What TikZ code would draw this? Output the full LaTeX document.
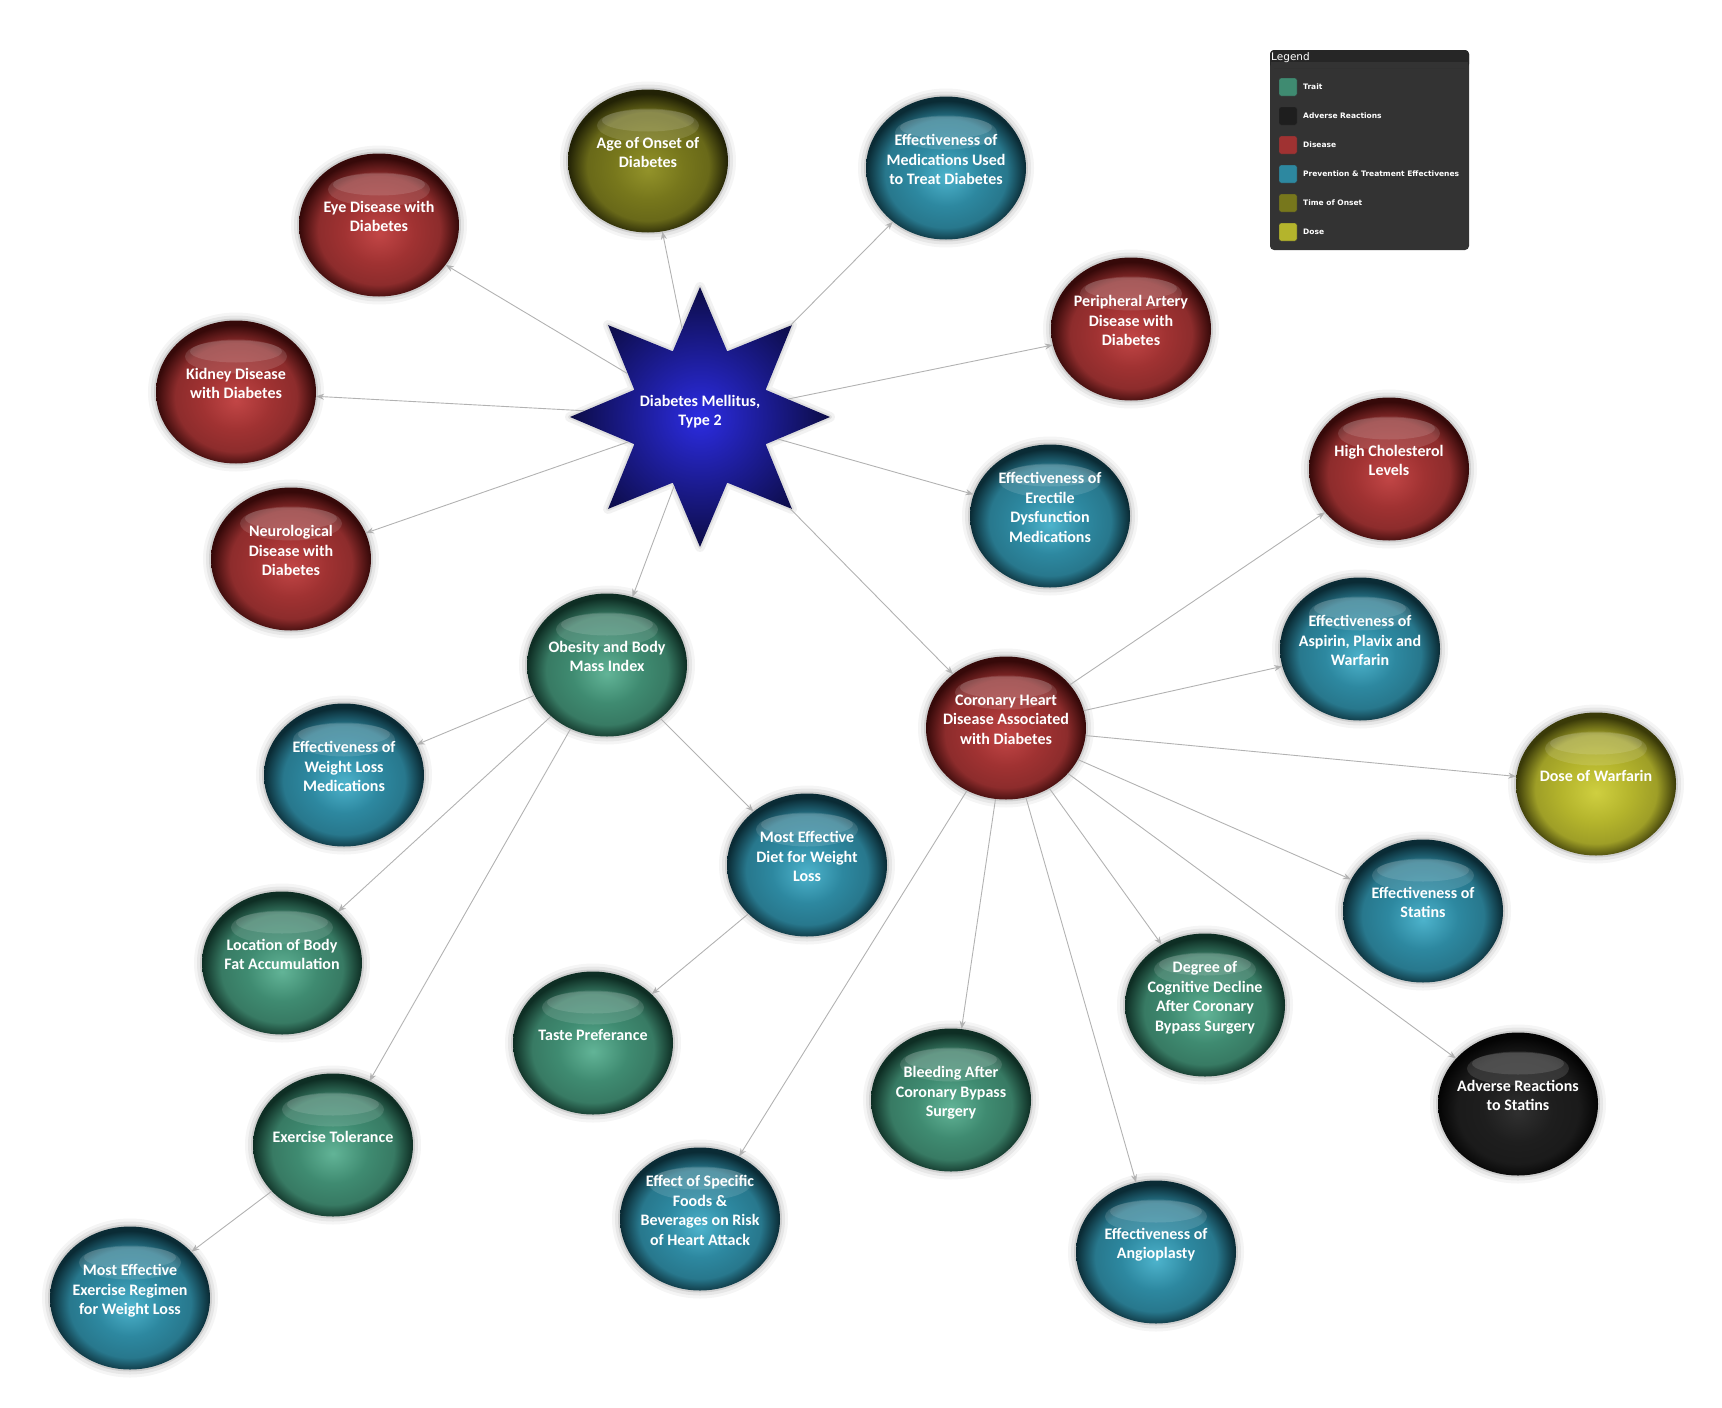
\documentclass[tikz,border=0pt]{standalone}
\usepackage{fontspec}
\setmainfont{Carlito}
\newfontfamily\legendfont{DejaVu Sans}
\usepackage{xcolor}
\usepackage{tikz}
\usetikzlibrary{shapes.geometric, arrows.meta}

% ── Category colours (centre / body / rim) ────────────────────────────────────
\definecolor{traitC}{HTML}{62B497}\definecolor{traitM}{HTML}{3F8B71}\definecolor{traitD}{HTML}{0E2E24}
\definecolor{advC}{HTML}{303030}\definecolor{advM}{HTML}{1E1E1E}\definecolor{advD}{HTML}{040404}
\definecolor{disC}{HTML}{C24646}\definecolor{disM}{HTML}{A03232}\definecolor{disD}{HTML}{360909}
\definecolor{prevC}{HTML}{4DB3CC}\definecolor{prevM}{HTML}{2D88A0}\definecolor{prevD}{HTML}{0A2B35}
\definecolor{onsetC}{HTML}{93932A}\definecolor{onsetM}{HTML}{77771C}\definecolor{onsetD}{HTML}{222205}
\definecolor{doseC}{HTML}{CFCF40}\definecolor{doseM}{HTML}{B4B42C}\definecolor{doseD}{HTML}{3A3A08}
\definecolor{legendbg}{HTML}{333333}

\newcommand{\ballshading}[4]{%
  \pgfdeclareradialshading{#1}{\pgfpoint{0bp}{-3bp}}{%
    color(0bp)=(#2); color(11bp)=(#3); color(19bp)=(#3!88!black);
    color(25bp)=(#4); color(50bp)=(#4)}}
\ballshading{balltrait}{traitC}{traitM}{traitD}
\ballshading{balladv}{advC}{advM}{advD}
\ballshading{balldis}{disC}{disM}{disD}
\ballshading{ballprev}{prevC}{prevM}{prevD}
\ballshading{ballonset}{onsetC}{onsetM}{onsetD}
\ballshading{balldose}{doseC}{doseM}{doseD}

\begin{document}
\begin{tikzpicture}[
  x=1pt, y=-1pt,
  ball/.style  = {ellipse, minimum width=160pt, minimum height=143pt,
                  inner xsep=-25pt, inner ysep=-8pt,
                  align=center, text=white, shade, text depth=17pt,
                  font=\bfseries\fontsize{16}{19.5}\selectfont,
                  preaction={draw=black, draw opacity=0.04, line width=16pt},
                  preaction={draw=black, draw opacity=0.06, line width=10pt},
                  preaction={draw=black, draw opacity=0.10, line width=4pt},
                  path picture={
                    \fill[white, fill opacity=0.12]
                      ([yshift=-36pt]path picture bounding box.north) ellipse (51pt and 17pt);
                    \fill[white, fill opacity=0.12]
                      ([yshift=-31pt]path picture bounding box.north) ellipse (46pt and 11pt);}},
  trait/.style = {ball, shading=balltrait},
  adv/.style   = {ball, shading=balladv},
  dis/.style   = {ball, shading=balldis},
  prev/.style  = {ball, shading=ballprev},
  onset/.style = {ball, shading=ballonset},
  dose/.style  = {ball, shading=balldose},
  hub/.style   = {star, star points=8, star point ratio=1.83, minimum size=260pt,
                  inner sep=-20pt, align=center, text=white, text depth=13pt,
                  inner color={rgb,255:red,44;green,44;blue,226}, outer color={rgb,255:red,12;green,12;blue,70},
                  font=\bfseries\fontsize{16}{19.5}\selectfont,
                  preaction={draw=black, draw opacity=0.05, line width=10pt, line join=round},
                  preaction={draw=black, draw opacity=0.08, line width=4pt, line join=round}},
  link/.style  = {-{Stealth[length=8pt, width=6pt]}, draw=black!30, line width=0.9pt},
  swatch/.style= {draw=black!80, rounded corners=2pt, minimum size=18pt, inner sep=0pt},
]

\useasboundingbox (0,0) rectangle (1722,1408);

% ── Centre ────────────────────────────────────────────────────────────────────
\node[hub]   (dm)      at (700,417)   {Diabetes Mellitus,\\Type 2};

% ── Ring round the centre ─────────────────────────────────────────────────────
\node[dis]   (eye)     at (379,225)   {Eye Disease with\\Diabetes};
\node[onset] (onset)   at (648,161)   {Age of Onset of\\Diabetes};
\node[prev]  (medeff)  at (946,168)   {Effectiveness of\\Medications Used\\to Treat Diabetes};
\node[dis]   (pad)     at (1131,329)  {Peripheral Artery\\Disease with\\Diabetes};
\node[dis]   (kidney)  at (236,392)   {Kidney Disease\\with Diabetes};
\node[dis]   (neuro)   at (291,559)   {Neurological\\Disease with\\Diabetes};
\node[prev]  (ed)      at (1050,516)  {Effectiveness of\\Erectile\\Dysfunction\\Medications};
\node[trait] (bmi)     at (607,665)   {Obesity and Body\\Mass Index};
\node[dis]   (chd)     at (1006,728)  {Coronary Heart\\Disease Associated\\with Diabetes};

% ── Obesity branch ────────────────────────────────────────────────────────────
\node[prev]  (wlmed)   at (344,775)   {Effectiveness of\\Weight Loss\\Medications};
\node[prev]  (diet)    at (807,865)   {Most Effective\\Diet for Weight\\Loss};
\node[trait] (fat)     at (282,963)   {Location of Body\\Fat Accumulation};
\node[trait] (taste)   at (593,1043)  {Taste Preferance};
\node[trait] (extol)   at (333,1145)  {Exercise Tolerance};
\node[prev]  (regimen) at (130,1298)  {Most Effective\\Exercise Regimen\\for Weight Loss};

% ── Coronary heart disease branch ─────────────────────────────────────────────
\node[dis]   (chol)    at (1389,469)  {High Cholesterol\\Levels};
\node[prev]  (apw)     at (1360,649)  {Effectiveness of\\Aspirin, Plavix and\\Warfarin};
\node[dose]  (warf)    at (1596,784)  {Dose of Warfarin};
\node[prev]  (statin)  at (1423,911)  {Effectiveness of\\Statins};
\node[trait] (cog)     at (1205,1005) {Degree of\\Cognitive Decline\\After Coronary\\Bypass Surgery};
\node[trait] (bleed)   at (951,1100)  {Bleeding After\\Coronary Bypass\\Surgery};
\node[adv]   (advstat) at (1518,1104) {Adverse Reactions\\to Statins};
\node[prev]  (foods)   at (700,1219)  {Effect of Specific\\Foods \&\\Beverages on Risk\\of Heart Attack};
\node[prev]  (angio)   at (1156,1252) {Effectiveness of\\Angioplasty};

% ── Links ─────────────────────────────────────────────────────────────────────
\foreach \t in {eye, onset, medeff, pad, kidney, neuro, ed, bmi, chd}
  \draw[link] (dm) -- (\t);
\foreach \t in {wlmed, diet, fat, extol}
  \draw[link] (bmi) -- (\t);
\draw[link] (diet) -- (taste);
\draw[link] (extol) -- (regimen);
\foreach \t in {chol, apw, warf, statin, advstat, cog, angio, bleed, foods}
  \draw[link] (chd) -- (\t);

% ── Legend ────────────────────────────────────────────────────────────────────
\fill[legendbg, rounded corners=4pt] (1270,50) rectangle (1469,250);
\fill[black!85, rounded corners=4pt] (1270,50) rectangle (1469,68);
\fill[legendbg] (1271,62) rectangle (1468,68);
\node[anchor=west, text=white, font=\legendfont\fontsize{10.5}{12}\selectfont, inner sep=1pt]
  (legtitle) at (1270,58) {Legend};
\foreach \c/\lab [count=\i] in {traitM/Trait, advM/Adverse Reactions, disM/Disease,
    prevM/Prevention \& Treatment Effectivenes, onsetM/Time of Onset, doseM/Dose}
{
  \node[swatch, fill=\c] (sw\i) at (1288,{87+29*(\i-1)}) {};
  \node[anchor=west, text=white, inner sep=0pt,
        font=\legendfont\bfseries\fontsize{7.5}{8}\selectfont] (lab\i) at (1303,{87+29*(\i-1)}) {\lab};
}

\end{tikzpicture}
\end{document}
